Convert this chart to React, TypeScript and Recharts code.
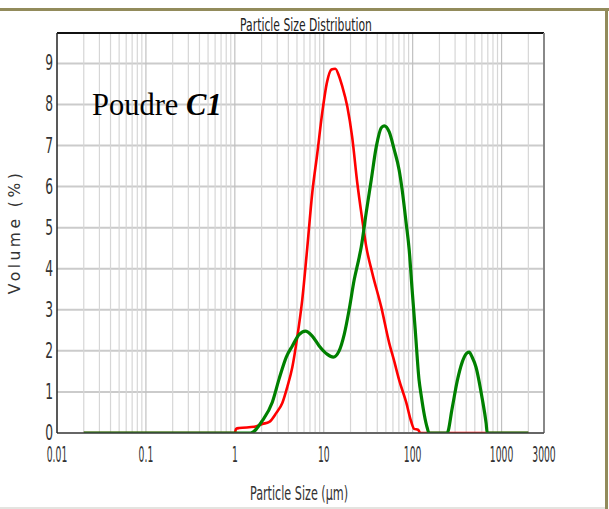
import React from "react";
import { LineChart, Line, XAxis, YAxis, CartesianGrid, ReferenceLine } from "recharts";

// Particle size (µm) and volume (%)
const RED_SIZE = [0.02, 1.0, 1.03, 1.12, 1.66, 2.04, 2.44, 2.93, 3.42, 3.89, 4.43, 5.04, 5.73, 6.52, 7.43, 8.45, 9.62, 10.9, 12.2, 13.5, 14.8, 16.1, 18.4, 20.9, 23.8, 27.1, 30.0, 35.1, 44.3, 54.5, 62.0, 70.5, 84.5, 96.2, 104, 115, 122, 2000];
const RED_VOL = [0, 0, 0.1, 0.12, 0.15, 0.22, 0.27, 0.49, 0.73, 1.12, 1.6, 2.34, 3.24, 4.5, 5.85, 6.8, 7.8, 8.55, 8.85, 8.87, 8.7, 8.45, 7.95, 7.2, 6.1, 5.2, 4.55, 3.9, 3.07, 2.19, 1.75, 1.29, 0.75, 0.28, 0.1, 0.08, 0, 0];

const GREEN_SIZE = [0.02, 1.5, 2.04, 2.64, 3.16, 3.79, 4.43, 5.31, 6.2, 7.43, 8.89, 10.9, 12.8, 14.9, 17.0, 19.3, 22.0, 25.1, 26.4, 30.0, 34.2, 38.9, 44.3, 47.9, 54.5, 62.0, 70.5, 76.2, 84.5, 91.4, 98.7, 107, 118, 125, 135, 146, 153, 244, 278, 316, 360, 400, 431, 466, 516, 604, 670, 690, 2000];
const GREEN_VOL = [0, 0, 0.3, 0.75, 1.33, 1.85, 2.12, 2.4, 2.48, 2.36, 2.12, 1.92, 1.85, 2.0, 2.4, 3.0, 3.73, 4.29, 4.53, 5.36, 6.16, 6.96, 7.43, 7.48, 7.33, 6.9, 6.4, 5.92, 5.11, 4.46, 3.48, 2.5, 1.29, 0.9, 0.45, 0.12, 0, 0, 0.6, 1.25, 1.72, 1.93, 1.97, 1.85, 1.6, 0.85, 0.24, 0, 0];

const X_TICKS = [0.01, 0.1, 1, 10, 100, 1000, 3000];
const X_TICK_LABELS = ["0.01", "0.1", "1", "10", "100", "1000", "3000"];
const Y_TICKS = [0, 1, 2, 3, 4, 5, 6, 7, 8, 9];
const DECADES = [0.01, 0.1, 1, 10, 100, 1000];
const MULTS = [1, 2, 3, 4, 5, 6, 7, 8, 9];
const X_MIN = 0.01;
const X_MAX = 3000;
const Y_MAX = 9.74;

const redData = RED_SIZE.map((d, i) => ({ d, v: RED_VOL[i] }));
const greenData = GREEN_SIZE.map((d, i) => ({ d, v: GREEN_VOL[i] }));

const gridLines: { v: number; major: boolean }[] = [];
DECADES.forEach((dec) => {
  MULTS.forEach((m) => {
    const v = +(dec * m).toPrecision(3);
    if (v > X_MIN && v < X_MAX) gridLines.push({ v, major: m === 1 });
  });
});

const FONT = "'DejaVu Sans', sans-serif";

const XTick = (props: any) => {
  const { x, y, payload } = props;
  const idx = X_TICKS.indexOf(payload.value);
  const label = idx >= 0 ? X_TICK_LABELS[idx] : String(payload.value);
  return (
    <text
      transform={`translate(${x},${y + 29}) scale(0.45,1)`}
      textAnchor="middle"
      fontFamily={FONT}
      fontSize={20.5}
      fill="#333"
    >
      {label}
    </text>
  );
};

const YTick = (props: any) => {
  const { x, y, payload } = props;
  return (
    <text
      transform={`translate(${x},${y + 7}) scale(0.6,1)`}
      textAnchor="end"
      fontFamily={FONT}
      fontSize={20.5}
      fill="#333"
    >
      {String(payload.value)}
    </text>
  );
};

export default function App() {
  return (
    <div style={{ position: "absolute", left: 0, top: 0, width: 609, height: 509, background: "#fff" }}>
      <div style={{ position: "absolute", left: 0, top: 8, width: 609, height: 3, background: "#928b5b" }} />
      <div style={{ position: "absolute", left: 605, top: 8, width: 3, height: 501, background: "#928b5b" }} />
      <div style={{ position: "absolute", left: 0, top: 507, width: 605, height: 2, background: "#e4e4e0" }} />
      <div style={{ position: "absolute", left: 0, top: 0 }}>
        <LineChart width={609} height={509} margin={{ top: 33, right: 65, left: 17, bottom: 46 }}>
          <CartesianGrid vertical={false} stroke="#cbcbcb" strokeWidth={2} />
          {gridLines.map((g) => (
            <ReferenceLine
              key={g.v}
              x={g.v}
              stroke={g.major ? "#c0c0c0" : "#d6d6d6"}
              strokeWidth={1.2}
              ifOverflow="visible"
              zIndex={-50}
            />
          ))}
          <XAxis
            dataKey="d"
            type="number"
            scale="log"
            domain={[X_MIN, X_MAX]}
            ticks={X_TICKS}
            allowDataOverflow
            tickLine={false}
            tickSize={0}
            tickMargin={0}
            height={30}
            axisLine={{ stroke: "#444", strokeWidth: 1.5 }}
            tick={<XTick />}
            interval={0}
          />
          <YAxis
            type="number"
            domain={[0, Y_MAX]}
            ticks={Y_TICKS}
            allowDataOverflow
            width={40}
            tickLine={false}
            tickSize={0}
            tickMargin={4}
            axisLine={{ stroke: "#222", strokeWidth: 1.5 }}
            tick={<YTick />}
            interval={0}
          />
          <ReferenceLine y={Y_MAX} stroke="#111" strokeWidth={2} ifOverflow="visible" />
          <ReferenceLine x={X_MAX} stroke="#888" strokeWidth={2} ifOverflow="visible" />
          <Line
            data={redData}
            dataKey="v"
            type="monotone"
            stroke="#ff0000"
            strokeWidth={2.6}
            dot={false}
            isAnimationActive={false}
          />
          <Line
            data={greenData}
            dataKey="v"
            type="monotone"
            stroke="#008000"
            strokeWidth={3.2}
            dot={false}
            isAnimationActive={false}
          />
        </LineChart>
      </div>
      <svg
        width={609}
        height={509}
        style={{ position: "absolute", left: 0, top: 0, pointerEvents: "none" }}
      >
        <text
          transform="translate(306,31) scale(0.6,1)"
          textAnchor="middle"
          fontFamily={FONT}
          fontSize={18}
          fill="#222"
        >
          Particle Size Distribution
        </text>
        <text
          transform="translate(299,500) scale(0.59,1)"
          textAnchor="middle"
          fontFamily={FONT}
          fontSize={19}
          fill="#333"
        >
          Particle Size (µm)
        </text>
        <text
          transform="translate(20,232) rotate(-90)"
          textAnchor="middle"
          fontFamily={FONT}
          fontSize={15.5}
          letterSpacing={3.5}
          fill="#333"
        >
          Volume (%)
        </text>
        <text x={92} y={115} fontFamily="'Liberation Serif', 'Times New Roman', serif" fontSize={30.5} fill="#000">
          Poudre <tspan fontWeight="bold" fontStyle="italic">C1</tspan>
        </text>
      </svg>
    </div>
  );
}
